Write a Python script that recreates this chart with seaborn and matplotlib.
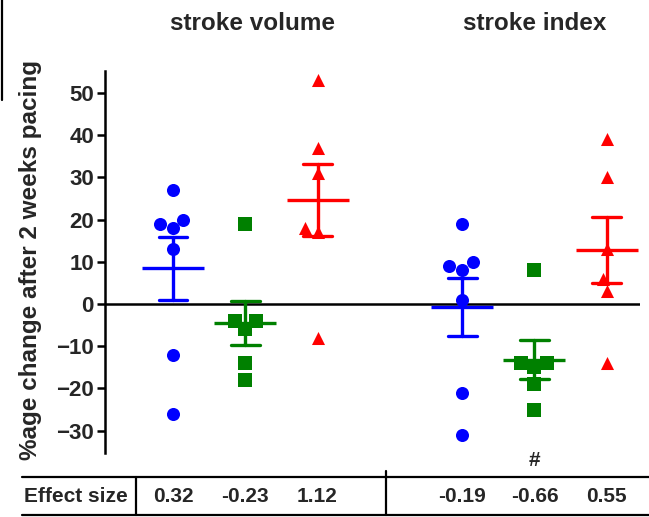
import matplotlib
matplotlib.use('Agg')
import matplotlib.pyplot as plt
import matplotlib.transforms as mtransforms
from matplotlib.lines import Line2D
import pandas as pd
import seaborn as sns

# categorias no eixo x (a vazia separa os dois paineis)
order = ['sv_a', 'sv_b', 'sv_c', '', 'si_a', 'si_b', 'si_c']

# % de mudanca apos 2 semanas
sv_blue = [27, 20, 19, 18, 13, -12, -26]
sv_green = [19, -4, -4, -6, -14, -18]
sv_red = [53, 37, 31, 18, 17, -8]
si_blue = [19, 10, 9, 8, 1, -21, -31]
si_green = [8, -14, -15, -14, -19, -25]
si_red = [39, 30, 13, 6, 3, -14]

effect_size = ['0.32', '-0.23', '1.12', '-0.19', '-0.66', '0.55']
titles = ['stroke volume', 'stroke index']
yticks = [-30, -20, -10, 0, 10, 20, 30, 40, 50]

series = {'sv_a': sv_blue, 'sv_b': sv_green, 'sv_c': sv_red,
          'si_a': si_blue, 'si_b': si_green, 'si_c': si_red}
df = pd.concat([pd.DataFrame({'grupo': k, 'valor': v}) for k, v in series.items()],
               ignore_index=True)

sns.set_style('ticks')
plt.rcParams['font.family'] = ['Liberation Sans', 'DejaVu Sans']
plt.rcParams['font.weight'] = 'bold'

fig = plt.figure(figsize=(6.49, 5.17), dpi=100)
ax = fig.add_axes([105 / 649, 1 - 453 / 517, 535 / 649, 382 / 517])

estilos = [('_a', 'o', '#0000ff'), ('_b', 's', '#008000'), ('_c', '^', '#ff0000')]

ax.axhline(0, color='black', lw=1.8, zorder=1)

# pontos individuais
for sufixo, marcador, cor in estilos:
    sub = df[df['grupo'].str.endswith(sufixo)]
    sns.swarmplot(data=sub, x='grupo', y='valor', order=order, color=cor,
                  marker=marcador, size=9.4, linewidth=0, ax=ax, zorder=2)

# media +- erro padrao
for sufixo, marcador, cor in estilos:
    sub = df[df['grupo'].str.endswith(sufixo)]
    sns.pointplot(data=sub, x='grupo', y='valor', order=order, color=cor,
                  errorbar='se', capsize=0.4, markers='_', markersize=44,
                  markeredgewidth=2.4, linestyles='none',
                  err_kws={'linewidth': 2.4}, ax=ax, zorder=3)

ax.set_xlim(-0.94, 6.46)
ax.set_ylim(-35.3, 55.2)
ax.set_yticks(yticks)
ax.set_xticks([])
ax.set_xlabel('')
ax.set_ylabel('%age change after 2 weeks pacing', fontsize=17.5, fontweight='bold')
ax.yaxis.set_label_coords(-0.118, 0.505)
ax.tick_params(axis='y', labelsize=16, width=1.8, length=6, color='black', pad=2)
for lab in ax.get_yticklabels():
    lab.set_fontweight('bold')
ax.spines['left'].set_linewidth(1.8)
ax.spines['left'].set_color('black')
for s in ['top', 'right', 'bottom']:
    ax.spines[s].set_visible(False)

# titulos e tabela de effect size
trans = mtransforms.blended_transform_factory(ax.transData, fig.transFigure)
ax.text(order.index('sv_b') + 0.1, 1 - 30 / 517, titles[0], transform=trans,
        ha='center', va='baseline', fontsize=17.5, fontweight='bold')
ax.text(order.index('si_b'), 1 - 30 / 517, titles[1], transform=trans,
        ha='center', va='baseline', fontsize=17.5, fontweight='bold')

ax.text(order.index('si_b'), 1 - 460 / 517, '#', transform=trans,
        ha='center', va='center', fontsize=15, fontweight='bold')

cats = [c for c in order if c]
for c, txt in zip(cats, effect_size):
    ax.text(order.index(c), 1 - 497 / 517, txt, transform=trans,
            ha='center', va='center', fontsize=15, fontweight='bold')
fig.text(76 / 649, 1 - 497 / 517, 'Effect size', ha='center', va='center',
         fontsize=15, fontweight='bold')

lw = 1.6
fig.add_artist(Line2D([22 / 649, 1], [1 - 477 / 517] * 2, transform=fig.transFigure, color='black', lw=lw))
fig.add_artist(Line2D([22 / 649, 1], [1 - 515 / 517] * 2, transform=fig.transFigure, color='black', lw=lw))
fig.add_artist(Line2D([136 / 649] * 2, [1 - 515 / 517, 1 - 477 / 517], transform=fig.transFigure, color='black', lw=lw))
fig.add_artist(Line2D([386 / 649] * 2, [1 - 515 / 517, 1 - 471 / 517], transform=fig.transFigure, color='black', lw=lw))
fig.add_artist(Line2D([1.5 / 649] * 2, [1, 1 - 100 / 517], transform=fig.transFigure, color='black', lw=lw))

fig.savefig('out.png', dpi=100)
